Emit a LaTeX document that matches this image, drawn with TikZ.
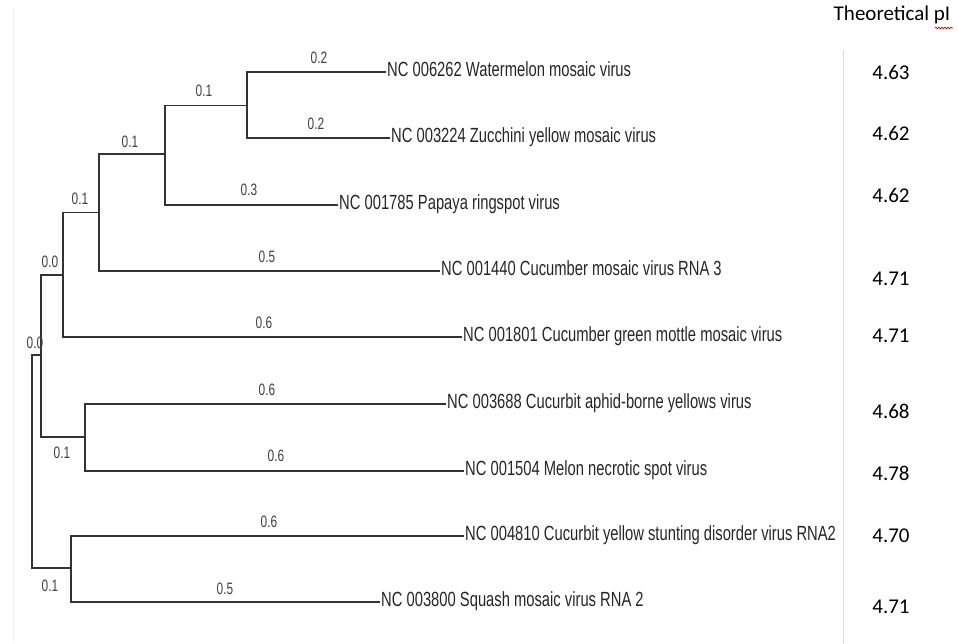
\documentclass[tikz,border=0pt]{standalone}
\usepackage{fontspec}
\newfontfamily\treefont[FakeStretch=0.72]{Liberation Sans}
\newfontfamily\tablefont{Carlito}
\usetikzlibrary{decorations.pathmorphing}

\begin{document}
\begin{tikzpicture}[x=1pt,y=-1pt,
  branch/.style={line width=1.3pt,black!80},
  tip/.style={anchor=west,inner sep=1pt,text height=14pt,text depth=5pt,text=black!85,
    font=\treefont\fontsize{20.5}{23}\selectfont},
  blen/.style={inner sep=0pt,text=black!75,font=\treefont\fontsize{16.5}{19}\selectfont},
  pival/.style={inner sep=0pt,text=black,font=\tablefont\fontsize{21}{24}\selectfont}]
  \useasboundingbox (0,0) rectangle (958,643);
  % faint page edge and table rule
  \draw[black!6,line width=0.8pt] (13,8)--(13,643);
  \draw[black!15,line width=0.8pt] (843,50)--(843,643);
  % inner nodes of the tree
  \coordinate (r0) at (32,461.5);
  \coordinate (n1) at (41,355);
  \coordinate (n2) at (63,275);
  \coordinate (n3) at (99,212.5);
  \coordinate (n4) at (165,154);
  \coordinate (n45) at (247,105.5);
  \coordinate (n5) at (85,437);
  \coordinate (n6) at (71,568);
  % leaves
  \node[tip] (wmv) at (386,72) {NC 006262 Watermelon mosaic virus};
  \node[tip] (zymv) at (390,138) {NC 003224 Zucchini yellow mosaic virus};
  \node[tip] (prsv) at (338,205) {NC 001785 Papaya ringspot virus};
  \node[tip] (cmv) at (440,271) {NC 001440 Cucumber mosaic virus RNA 3};
  \node[tip] (cgmmv) at (462,337) {NC 001801 Cucumber green mottle mosaic virus};
  \node[tip] (cabyv) at (446,404) {NC 003688 Cucurbit aphid-borne yellows virus};
  \node[tip] (mnsv) at (464,471) {NC 001504 Melon necrotic spot virus};
  \node[tip] (cysdv) at (464,536) {NC 004810 Cucurbit yellow stunting disorder virus RNA2};
  \node[tip] (sqmv) at (380,602) {NC 003800 Squash mosaic virus RNA 2};
  % branches
  \draw[branch] (r0) |- (n1);
  \draw[branch] (r0) |- (n6);
  \draw[branch] (n1) |- (n2);
  \draw[branch] (n1) |- (n5);
  \draw[branch] (n2) |- (n3);
  \draw[branch] (n2) |- (cgmmv.west);
  \draw[branch] (n3) |- (n4);
  \draw[branch] (n3) |- (cmv.west);
  \draw[branch] (n4) |- (n45);
  \draw[branch] (n4) |- (prsv.west);
  \draw[branch] (n45) |- (wmv.west);
  \draw[branch] (n45) |- (zymv.west);
  \draw[branch] (n5) |- (cabyv.west);
  \draw[branch] (n5) |- (mnsv.west);
  \draw[branch] (n6) |- (cysdv.west);
  \draw[branch] (n6) |- (sqmv.west);
  % branch lengths
  \node[blen] (l-wmv) at (319,58) {0.2};
  \node[blen] (l-zymv) at (316,124) {0.2};
  \node[blen] (l-n45) at (204,91) {0.1};
  \node[blen] (l-n4) at (130,142) {0.1};
  \node[blen] (l-prsv) at (249,190) {0.3};
  \node[blen] (l-n3) at (80,199) {0.1};
  \node[blen] (l-cmv) at (267,257) {0.5};
  \node[blen] (l-n2) at (50,262) {0.0};
  \node[blen] (l-cgmmv) at (264,323) {0.6};
  \node[blen] (l-n1) at (35,343) {0.0};
  \node[blen] (l-cabyv) at (267,390) {0.6};
  \node[blen] (l-n5) at (62,453) {0.1};
  \node[blen] (l-mnsv) at (276,456) {0.6};
  \node[blen] (l-cysdv) at (269,522) {0.6};
  \node[blen] (l-n6) at (50,586) {0.1};
  \node[blen] (l-sqmv) at (225,589) {0.5};
  % pI column
  \node[pival] (pi-head) at (892,15) {Theoretical pI};
  \draw[red!85!black,line width=0.7pt,decorate,decoration={snake,amplitude=0.9pt,segment length=3pt}]
    (935,28)--(953,28);
  \node[pival] (pi-wmv) at (891,72) {4.63};
  \node[pival] (pi-zymv) at (891,133) {4.62};
  \node[pival] (pi-prsv) at (891,195) {4.62};
  \node[pival] (pi-cmv) at (891,279) {4.71};
  \node[pival] (pi-cgmmv) at (891,336) {4.71};
  \node[pival] (pi-cabyv) at (891,411) {4.68};
  \node[pival] (pi-mnsv) at (891,473) {4.78};
  \node[pival] (pi-cysdv) at (891,536) {4.70};
  \node[pival] (pi-sqmv) at (891,607) {4.71};
\end{tikzpicture}
\end{document}
